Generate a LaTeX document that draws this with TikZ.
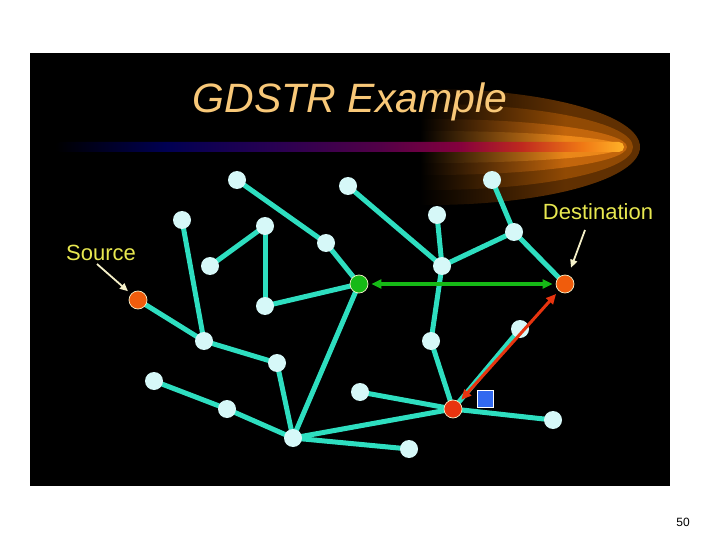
\documentclass[tikz,border=0pt]{standalone}
\usepackage{fontspec}
\setmainfont{Liberation Sans}
\usetikzlibrary{arrows.meta}
\definecolor{edgec}{RGB}{46,222,192}
\definecolor{vtx}{RGB}{214,248,248}
\definecolor{orangev}{RGB}{240,92,12}
\definecolor{redv}{RGB}{232,52,15}
\definecolor{greenv}{RGB}{22,185,22}
\definecolor{bluesq}{RGB}{50,105,240}
\definecolor{titlec}{RGB}{248,200,120}
\definecolor{labelc}{RGB}{232,232,80}
\definecolor{cream}{RGB}{245,240,200}
\definecolor{band1}{RGB}{96,48,2}
\definecolor{band2}{RGB}{145,74,4}
\definecolor{band3}{RGB}{195,102,12}
\definecolor{band4}{RGB}{235,135,25}
\pgfdeclarehorizontalshading{streak}{100bp}{rgb(0bp)=(0,0,0); rgb(25bp)=(0,0,0); rgb(34.7bp)=(0,0,0.32); rgb(44.4bp)=(0.16,0,0.32); rgb(53.4bp)=(0.32,0,0.28); rgb(60.5bp)=(0.52,0,0.24); rgb(66bp)=(0.75,0.16,0.12); rgb(71.3bp)=(0.94,0.47,0.08); rgb(75bp)=(1,0.7,0.16); rgb(100bp)=(1,0.7,0.16)}
\pgfdeclarelayer{back}
\pgfdeclarelayer{edges}
\pgfsetlayers{back,edges,main}
\begin{document}
\begin{tikzpicture}[x=1pt,y=-1pt,
  vert/.style={circle,fill=vtx,minimum size=18pt,inner sep=0pt},
  special/.style={circle,minimum size=18pt,inner sep=0pt,draw=cream,line width=0.7pt},
  edge/.style={draw=edgec,line width=5pt},
  lbl/.style={text=labelc,font=\fontsize{22}{26}\selectfont,anchor=base,inner sep=0pt},
  pointer/.style={draw=cream,line width=1.8pt,-{Triangle[length=8pt,width=7pt]}},
  greenarrow/.style={draw=greenv,line width=3.5pt,{Triangle[length=10pt,width=9pt]}-{Triangle[length=10pt,width=9pt]},shorten <=3pt,shorten >=3pt},
  redarrow/.style={draw=redv,line width=3pt,{Triangle[length=10pt,width=9pt]}-{Triangle[length=10pt,width=9pt]},shorten <=3pt,shorten >=4pt}]
\useasboundingbox (0,0) rectangle (720,540);
\begin{pgfonlayer}{back}
\fill[white] (0,0) rectangle (720,540);
\fill[black] (30,53) rectangle (670,486);
\foreach \rx/\ry/\c in {210/58/band1,203/43/band2,197/28/band3,192/16/band4}{
  \begin{scope}
    \clip (430,147) ellipse [x radius=\rx, y radius=\ry];
    \shade[left color=black,right color=\c] (420,85) rectangle (565,210);
    \fill[\c] (564.5,85) rectangle (648,210);
  \end{scope}
}
\shade[shading=streak,rounded corners=5pt] (55,142) rectangle (624,152);
\end{pgfonlayer}
\node[text=titlec,font=\itshape\fontsize{41}{48}\selectfont,anchor=base,inner sep=0pt] (title) at (350,113) {GDSTR Example};
% vertices
\node[vert] (a1) at (237,180) {};
\node[vert] (a2) at (348,186) {};
\node[vert] (a3) at (492,180) {};
\node[vert] (a4) at (182,220) {};
\node[vert] (a5) at (265,226) {};
\node[vert] (a6) at (326,243) {};
\node[vert] (a7) at (437,215) {};
\node[vert] (a8) at (514,232) {};
\node[vert] (a9) at (210,266) {};
\node[vert] (a10) at (442,266) {};
\node[vert] (a11) at (265,306) {};
\node[vert] (a12) at (204,341) {};
\node[vert] (a13) at (277,363) {};
\node[vert] (a14) at (431,341) {};
\node[vert] (a15) at (520,329) {};
\node[vert] (a16) at (154,381) {};
\node[vert] (a17) at (227,409) {};
\node[vert] (a18) at (360,392) {};
\node[vert] (a19) at (293,438) {};
\node[vert] (a20) at (409,449) {};
\node[vert] (a21) at (553,420) {};
\node[special,fill=orangev] (src) at (138,300) {};
\node[special,fill=greenv] (grn) at (359,284) {};
\node[special,fill=orangev] (dst) at (565,284) {};
\node[special,fill=redv] (red) at (453,409) {};
\node[draw=white,fill=bluesq,line width=0.8pt,minimum width=16pt,minimum height=17pt,inner sep=0pt] (sq) at (485,398.5) {};
% edges
\begin{pgfonlayer}{edges}
\foreach \u/\v in {src/a12,a4/a12,a12/a13,a13/a19,a16/a17,a17/a19,a19/grn,a19/red,a19/a20,a18/red,red/a21,red/a14,red/a15,a14/a10,a10/a2,a10/a7,a10/a8,a8/a3,a8/dst,a1/a6,a6/grn,grn/a11,a11/a5,a5/a9}
  \draw[edge] (\u.center) -- (\v.center);
\end{pgfonlayer}
% arrows
\draw[greenarrow] (grn) -- (dst);
\draw[redarrow] (red) -- (dst);
% labels
\node[lbl] (srclbl) at (101,260) {Source};
\node[lbl] (dstlbl) at (598,220) {Destination};
\coordinate (srcptr) at (97,264);
\coordinate (dstptr) at (585,230);
\draw[pointer,shorten >=4pt] (srcptr) -- (src);
\draw[pointer,shorten >=8pt] (dstptr) -- (dst);
\node[font=\fontsize{12}{14}\selectfont,anchor=base,inner sep=0pt] (pg) at (683,526) {50};
\end{tikzpicture}
\end{document}
